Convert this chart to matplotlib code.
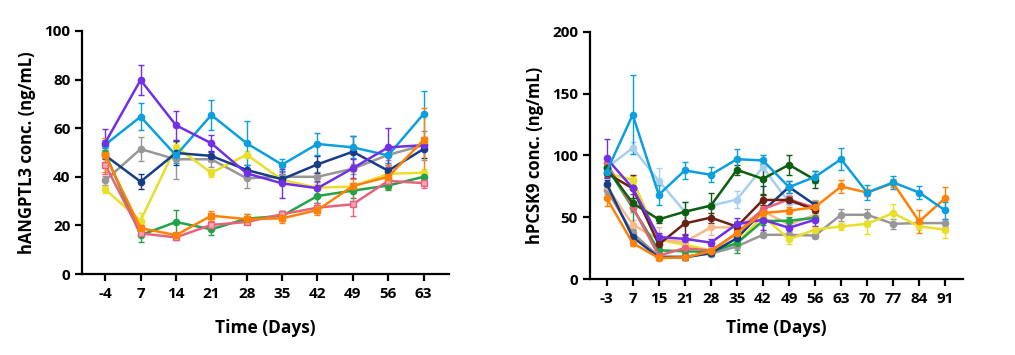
import numpy as np
import matplotlib.pyplot as plt

plt.rcParams['font.family'] = ['Open Sans', 'DejaVu Sans']
plt.rcParams['font.weight'] = 'bold'

# linkes Diagramm: hANGPTL3
days_l = ['-4', '7', '14', '21', '28', '35', '42', '49', '56', '63']

purple_l = [54, 79.8, 61.2, 53.8, 41.4, 37.3, 35.3, 43.5, 52.1, 53]
purple_l_err = [5.5, 6, 6, 3.5, 2, 6, 3, 4, 8, 2]
sky_l = [53.2, 64.7, 48.8, 65.4, 53.8, 45, 53.5, 52.1, 48.8, 65.8]
sky_l_err = [2, 5.5, 3, 6, 9, 2.5, 4.5, 4.5, 3, 9.5]
gray_l = [38.5, 51.4, 47.2, 47.2, 39.4, 40, 40, 43.3, 49, 53]
gray_l_err = [2, 5, 8, 3, 4, 2, 2, 2, 2, 6]
navy_l = [48.8, 38, 49.8, 48.6, 42.8, 39, 45.1, 50.3, 42.5, 51.4]
navy_l_err = [1.5, 3, 5, 2, 2, 2, 3.5, 6.5, 2.5, 3.5]
yellow_l = [34.8, 22, 52.4, 41.6, 49.1, 38.7, 35.5, 36, 41.2, 41.7]
yellow_l_err = [1.5, 3, 2, 1.5, 1.5, 1.5, 1.5, 1.5, 1.5, 1.5]
green_l = [49.7, 16, 21.4, 18.4, 22.8, 23.9, 32.1, 34.3, 36.4, 40]
green_l_err = [2, 3, 5, 2.5, 2, 2, 3, 3, 2, 2]
pink_l = [45, 16.7, 15.1, 20.2, 21.4, 24.6, 27.3, 28.7, 38.3, 37.4]
pink_l_err = [4, 1, 1, 1.5, 1, 1.5, 2, 5, 3, 2]
orange_l = [48.8, 18.9, 16, 24, 22.6, 22.9, 26.3, 36.2, 40, 55.1]
orange_l_err = [7, 2, 1, 2, 2, 2, 2, 3, 5, 13]

# rechtes Diagramm: hPCSK9
days_r = ['-3', '7', '15', '21', '28', '35', '42', '49', '56', '63', '70', '77', '84', '91']

sky_r = [87, 132.9, 68.2, 87.9, 84.4, 97, 96, 74.4, 82.7, 97, 70, 78.2, 70, 55.5]
sky_r_err = [4, 32, 8, 7, 6, 8, 4, 5, 5, 9, 6, 5, 5, 7]
lightblue_r = [90, 106, 79.5, 54.5, 59.4, 64.3, 90.5, 62, 59]
lightblue_r_err = [4, 5, 10, 8, 3, 7, 10, 5, 5]
darkgreen_r = [89.8, 61.5, 48.3, 54.5, 59.4, 88.4, 81.1, 92.5, 80.3]
darkgreen_r_err = [3, 4, 3, 8, 10, 4, 12, 8, 7]
brown_r = [85.7, 73.4, 28, 45, 49.7, 42.4, 64, 64, 56]
brown_r_err = [3, 11, 3, 9, 4, 4, 4, 3, 5]
peach_r = [75, 44, 32, 30, 41.8, 41.8, 55, 44, 52]
peach_r_err = [3, 4, 10, 3, 6, 3, 3, 3, 3]
purple_r = [97.7, 73.6, 34, 32.5, 29.5, 44.5, 48, 41.5, 48]
purple_r_err = [16, 5, 3, 4, 3, 5, 8, 5, 5]
navy_r = [77, 34, 17.5, 17.5, 21, 33, 55, 74.5, 60]
navy_r_err = [3, 3, 2, 2, 2, 3, 20, 5, 3]
pink_r = [93.8, 58, 19, 25, 23, 37, 56.6, 64.5, 57.5]
pink_r_err = [3, 4, 2, 3, 2, 3, 3, 3, 3]
green_r = [91, 57.5, 23.2, 22.5, 21.8, 29, 47, 47.2, 49.5]
green_r_err = [3, 18, 3, 2, 2, 8, 3, 3, 3]
yellow_r = [85.7, 80.3, 31.8, 27.8, 23.2, 29, 51, 32.3, 40, 42.6, 44.7, 53.4, 42.6, 40]
yellow_r_err = [3, 3, 3, 2, 2, 2, 3, 4, 2, 3, 8, 7, 3, 7]
gray_r = [72.2, 37.2, 18.3, 18.3, 20.5, 26.4, 35.8, 35.8, 35.2, 52, 52, 44.7, 45.3, 45.3]
gray_r_err = [3, 3, 2, 2, 2, 3, 2, 2, 2, 5, 5, 4, 3, 3]
orange_r = [65.5, 29.1, 17, 17.5, 22.4, 37.2, 53.4, 55.3, 58.2, 74.9, 70, 77.6, 46.6, 65.5]
orange_r_err = [6, 2, 2, 2, 2, 2, 3, 3, 5, 5, 3, 3, 9, 9]

C_PURPLE = '#7230e6'
C_SKY = '#0b9fe0'
C_GRAY = '#979797'
C_NAVY = '#173c88'
C_YELLOW = '#e9df2a'
C_GREEN = '#23a348'
C_PINK = '#e8627a'
C_ORANGE = '#ff8206'
C_LBLUE = '#a7cff0'
C_DGREEN = '#0d5f10'
C_BROWN = '#6b2016'
C_PEACH = '#f7b98a'


def draw(ax, y, err, color, marker='o', mfc=None):
    x = np.arange(len(y))
    ax.errorbar(x, y, yerr=err, color=color, lw=1.8, marker=marker, ms=4.5,
                mfc=mfc if mfc else color, mec=color, capsize=2.5,
                elinewidth=1, capthick=1, ecolor=color)


def style(ax, labels, ymax, ystep, ylabel, xmax, xpad):
    ax.set_xticks(np.arange(len(labels)))
    ax.set_xticklabels(labels)
    ax.set_xlim(-0.65, xmax)
    ax.set_ylim(0, ymax)
    ax.set_yticks(np.arange(0, ymax + 1, ystep))
    for s in ['top', 'right']:
        ax.spines[s].set_visible(False)
    for s in ['left', 'bottom']:
        ax.spines[s].set_linewidth(1.6)
    ax.tick_params(width=1.6, length=5, labelsize=11)
    ax.tick_params(axis='x', pad=4.5)
    ax.set_xlabel('Time (Days)', fontsize=12.5, fontweight='bold', labelpad=xpad)
    ax.set_ylabel(ylabel, fontsize=12, fontweight='bold', labelpad=6)


fig = plt.figure(figsize=(10.15, 3.55), dpi=100)
ax1 = fig.add_axes([0.081, 0.228, 0.361, 0.685])
ax2 = fig.add_axes([0.581, 0.214, 0.368, 0.696])

draw(ax1, gray_l, gray_l_err, C_GRAY)
draw(ax1, yellow_l, yellow_l_err, C_YELLOW)
draw(ax1, navy_l, navy_l_err, C_NAVY)
draw(ax1, sky_l, sky_l_err, C_SKY)
draw(ax1, purple_l, purple_l_err, C_PURPLE)
draw(ax1, green_l, green_l_err, C_GREEN)
draw(ax1, pink_l, pink_l_err, C_PINK, marker='s', mfc='#f4a6b4')
draw(ax1, orange_l, orange_l_err, C_ORANGE, marker='s')
style(ax1, days_l, 100, 20, 'hANGPTL3 conc. (ng/mL)', 9.71, 13)

draw(ax2, gray_r, gray_r_err, C_GRAY)
draw(ax2, yellow_r, yellow_r_err, C_YELLOW)
draw(ax2, peach_r, peach_r_err, C_PEACH)
draw(ax2, lightblue_r, lightblue_r_err, C_LBLUE)
draw(ax2, green_r, green_r_err, C_GREEN)
draw(ax2, navy_r, navy_r_err, C_NAVY)
draw(ax2, pink_r, pink_r_err, C_PINK)
draw(ax2, brown_r, brown_r_err, C_BROWN)
draw(ax2, darkgreen_r, darkgreen_r_err, C_DGREEN)
draw(ax2, purple_r, purple_r_err, C_PURPLE)
draw(ax2, orange_r, orange_r_err, C_ORANGE)
draw(ax2, sky_r, sky_r_err, C_SKY)
style(ax2, days_r, 200, 50, 'hPCSK9 conc. (ng/mL)', 13.69, 9)

plt.savefig('out.png', dpi=100)
